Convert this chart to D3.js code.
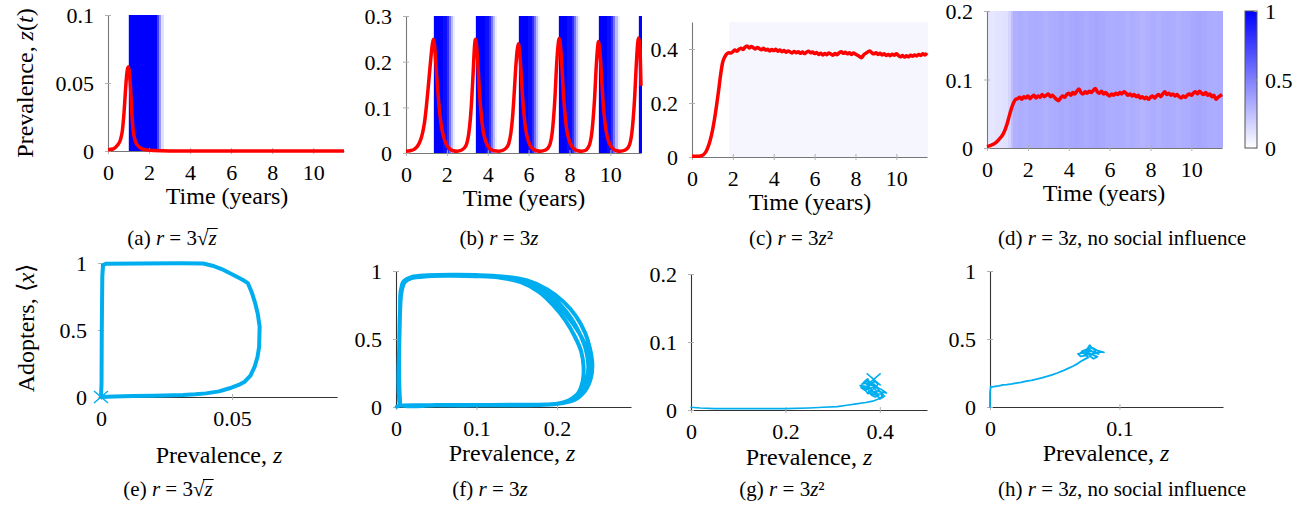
<!DOCTYPE html>
<html lang="en">
<head>
<meta charset="UTF-8">
<title>Prevalence and adopters</title>
<script src="https://d3js.org/d3.v7.min.js"></script>
<style>
  body { margin: 0; background: #fff; }
</style>
</head>
<body>
<svg id="fig" width="1314" height="506"></svg>
<script>
// ---------- data ----------
const T_MAX = 11.5;
const timeTicks = [0, 2, 4, 6, 8, 10];
const NOISE_STEP = 0.1; // sampling step of the noisy series (years)

// (a) r = 3 sqrt(z): prevalence [t, z] and adopter heat bands [t0, t1, value]
const prevA = [[0,0.001],[0.25,0.0015],[0.45,0.004],[0.6,0.008],[0.7,0.015],[0.78,0.028],[0.85,0.044],
  [0.91,0.056],[0.96,0.061],[1.0,0.062],[1.04,0.058],[1.1,0.046],[1.15,0.031],[1.2,0.019],[1.27,0.011],
  [1.35,0.0065],[1.45,0.004],[1.6,0.002],[1.8,0.001],[2.2,0.0003],[3,0],[11.5,0]];
const bandsA = [[0.97,1.0,0.2],[1.0,2.4,1],[2.4,2.5,0.75],[2.5,2.6,0.4],[2.6,2.7,0.12]];

// (b) r = 3z
const prevB = [[0,0.004],[0.2,0.005],[0.4,0.008],[0.55,0.014],[0.7,0.027],[0.8,0.042],[0.9,0.065],[1.0,0.103],
  [1.1,0.15],[1.2,0.2],[1.28,0.235],[1.34,0.249],[1.4,0.235],[1.47,0.19],[1.55,0.14],[1.65,0.088],[1.75,0.054],
  [1.85,0.034],[1.95,0.021],[2.1,0.011],[2.3,0.005],[2.5,0.004],[2.7,0.006],
  [2.85,0.011],[2.97,0.02],[3.07,0.042],[3.15,0.075],[3.22,0.12],[3.29,0.18],[3.35,0.232],[3.4,0.249],
  [3.46,0.232],[3.53,0.185],[3.6,0.13],[3.68,0.085],[3.77,0.05],[3.87,0.03],[3.97,0.018],[4.1,0.01],
  [4.3,0.005],[4.55,0.004],[4.75,0.006],
  [4.9,0.011],[5.03,0.021],[5.13,0.043],[5.21,0.076],[5.28,0.12],[5.36,0.18],[5.44,0.225],[5.5,0.239],
  [5.56,0.222],[5.63,0.178],[5.7,0.125],[5.78,0.082],[5.87,0.048],[5.97,0.029],[6.07,0.017],[6.2,0.009],
  [6.4,0.005],[6.6,0.004],[6.8,0.006],
  [6.95,0.011],[7.06,0.021],[7.15,0.043],[7.22,0.076],[7.29,0.122],[7.36,0.185],[7.44,0.235],[7.5,0.251],
  [7.56,0.234],[7.63,0.188],[7.7,0.132],[7.78,0.086],[7.87,0.05],[7.97,0.03],[8.07,0.018],[8.2,0.01],
  [8.4,0.005],[8.6,0.004],[8.8,0.006],
  [8.9,0.011],[9.0,0.021],[9.09,0.043],[9.16,0.076],[9.23,0.12],[9.3,0.182],[9.37,0.228],[9.42,0.244],
  [9.48,0.228],[9.55,0.182],[9.62,0.128],[9.7,0.083],[9.79,0.049],[9.89,0.029],[9.99,0.018],[10.12,0.01],
  [10.3,0.005],[10.5,0.004],[10.7,0.006],
  [10.85,0.011],[10.96,0.021],[11.05,0.043],[11.12,0.076],[11.19,0.122],[11.26,0.185],[11.33,0.236],
  [11.37,0.252],[11.42,0.245],[11.46,0.22],[11.5,0.147]];
const bandsB = [
  [1.34,1.39,0.15],[1.39,1.8,1],[1.8,2.0,0.95],[2.0,2.1,0.82],[2.1,2.2,0.55],[2.2,2.3,0.27],[2.3,2.38,0.07],
  [3.38,3.43,0.15],[3.43,3.85,1],[3.85,4.07,0.95],[4.07,4.17,0.82],[4.17,4.27,0.55],[4.27,4.37,0.27],[4.37,4.45,0.07],
  [5.5,5.55,0.15],[5.55,5.95,1],[5.95,6.16,0.95],[6.16,6.26,0.82],[6.26,6.36,0.55],[6.36,6.46,0.27],[6.46,6.54,0.07],
  [7.46,7.51,0.15],[7.51,7.9,1],[7.9,8.12,0.95],[8.12,8.22,0.82],[8.22,8.32,0.55],[8.32,8.42,0.27],[8.42,8.5,0.07],
  [9.41,9.46,0.15],[9.46,9.85,1],[9.85,10.05,0.95],[10.05,10.15,0.82],[10.15,10.25,0.55],[10.25,10.35,0.27],[10.35,10.43,0.07],
  [11.35,11.4,0.15],[11.4,11.5,1]];

// (c) r = 3z^2
const prevC = [[0,0.003],[0.2,0.003],[0.4,0.004],[0.55,0.008],[0.7,0.022],[0.8,0.04],[0.9,0.065],[1.0,0.098],
  [1.1,0.14],[1.2,0.19],[1.3,0.245],[1.4,0.305],[1.5,0.35],[1.6,0.37],[1.7,0.382],[1.8,0.386],[1.9,0.385]];
const noisyCStart = 2.0;
const noisyC = [.390,.396,.392,.399,.403,.398,.407,.411,.404,.409,.405,.400,.406,.401,.397,.403,.396,.399,.393,.398,
  .394,.399,.392,.396,.390,.394,.388,.393,.389,.385,.391,.386,.390,.384,.389,.383,.388,.392,.386,.389,
  .383,.387,.380,.384,.378,.383,.379,.385,.381,.377,.383,.379,.386,.390,.384,.388,.382,.386,.380,.385,
  .381,.377,.372,.368,.378,.384,.389,.393,.386,.382,.386,.380,.384,.378,.382,.376,.380,.375,.381,.377,
  .382,.376,.371,.376,.370,.375,.371,.377,.373,.378,.374,.380,.376,.382,.378,.385];
const bandsC = [[1.8,11.5,0.035]];

// (d) r = 3z, no social influence
const prevD = [[0,0.002],[0.2,0.004],[0.4,0.007],[0.6,0.013],[0.8,0.021],[0.9,0.028],[1.0,0.037],[1.1,0.048],
  [1.2,0.058],[1.3,0.066],[1.4,0.071]];
const noisyDStart = 1.5;
const noisyD = [.072,.074,.071,.075,.073,.076,.072,.075,.077,.073,.076,.074,.078,.075,.077,.079,.075,.077,.074,.071,
  .069,.073,.076,.074,.078,.080,.077,.081,.079,.083,.086,.081,.079,.082,.080,.083,.081,.084,.087,.082,
  .080,.083,.079,.081,.078,.076,.079,.077,.080,.078,.081,.079,.082,.080,.077,.079,.076,.078,.075,.077,
  .073,.075,.072,.074,.071,.074,.076,.073,.076,.078,.075,.079,.082,.078,.080,.077,.079,.076,.078,.075,
  .073,.076,.074,.077,.079,.077,.080,.082,.079,.083,.080,.078,.081,.077,.079,.075,.077,.071,.074,.076,.078];
const bandsD = [[0,0.4,0.1],[0.4,0.8,0.11],[0.8,1.05,0.12],[1.05,1.15,0.17],[1.15,1.25,0.25],
  [1.25,1.5,.31],[1.5,1.75,.32],[1.75,2,.31],[2,2.25,.32],[2.25,2.5,.33],[2.5,2.75,.32],[2.75,3,.31],[3,3.25,.32],
  [3.25,3.5,.33],[3.5,3.75,.34],[3.75,4,.33],[4,4.25,.34],[4.25,4.5,.35],[4.5,4.75,.34],[4.75,5,.33],[5,5.25,.34],
  [5.25,5.5,.35],[5.5,5.75,.34],[5.75,6,.33],[6,6.25,.32],[6.25,6.5,.33],[6.5,6.75,.32],[6.75,7,.31],[7,7.25,.32],
  [7.25,7.5,.31],[7.5,7.75,.30],[7.75,8,.31],[8,8.25,.32],[8.25,8.5,.31],[8.5,8.75,.32],[8.75,9,.33],[9,9.25,.32],
  [9.25,9.5,.31],[9.5,9.75,.32],[9.75,10,.33],[10,10.25,.34],[10.25,10.5,.35],[10.5,10.75,.34],[10.75,11,.33],
  [11,11.25,.32],[11.25,11.5,.33]];

// phase portraits [z, <x>]
const phaseE = [[0,0],[0.005,0.003],[0.0123,0.007],[0.02,0.01],[0.0313,0.015],[0.036,0.02],[0.040,0.027],
  [0.045,0.042],[0.049,0.065],[0.0525,0.09],[0.0548,0.114],[0.057,0.16],[0.0586,0.226],[0.0597,0.3],
  [0.0603,0.375],[0.0605,0.525],[0.0598,0.62],[0.0588,0.70],[0.0575,0.78],[0.056,0.85],[0.054,0.875],
  [0.0505,0.91],[0.046,0.955],[0.0425,0.98],[0.039,0.996],[0.03,0.998],[0.015,0.997],[0.002,0.995],
  [0.0008,0.985],[0.0005,0.9],[0.0003,0.5],[0.0002,0.1],[0,0]];
const startE = [0, 0];

const phaseF = [[0.001,0.002],[0.005,0.01],[0.05,0.012],[0.1,0.013],[0.15,0.015],[0.195,0.02],[0.216,0.045],[0.23,0.11],
  [0.237,0.2],[0.239,0.3],[0.236,0.42],[0.229,0.53],[0.218,0.65],[0.203,0.76],[0.185,0.855],[0.16,0.925],
  [0.13,0.955],[0.1,0.966],[0.07,0.968],[0.042,0.965],[0.02,0.95],[0.011,0.92],[0.007,0.85],[0.005,0.7],
  [0.004,0.45],[0.004,0.2],[0.005,0.05],[0.006,0.015],
  [0.05,0.014],[0.1,0.015],[0.15,0.017],[0.198,0.023],[0.221,0.05],[0.235,0.12],[0.242,0.21],[0.244,0.31],
  [0.241,0.43],[0.235,0.545],[0.224,0.665],[0.208,0.775],[0.188,0.865],[0.162,0.932],[0.132,0.96],[0.1,0.97],
  [0.07,0.972],[0.04,0.968],[0.019,0.955],[0.01,0.925],[0.006,0.86],[0.005,0.7],[0.004,0.45],[0.004,0.2],
  [0.005,0.05],[0.006,0.015],
  [0.05,0.012],[0.1,0.012],[0.15,0.013],[0.19,0.018],[0.211,0.04],[0.226,0.1],[0.232,0.19],[0.233,0.3],
  [0.23,0.41],[0.222,0.52],[0.21,0.64],[0.195,0.75],[0.178,0.845],[0.155,0.918],[0.128,0.952],[0.1,0.962],
  [0.07,0.965],[0.04,0.962],[0.018,0.945],[0.009,0.91],[0.006,0.84],[0.005,0.7],[0.004,0.45],[0.004,0.2],
  [0.005,0.05],[0.006,0.015],
  [0.05,0.013],[0.1,0.014],[0.15,0.016],[0.196,0.021],[0.219,0.048],[0.233,0.115],[0.24,0.205],[0.241,0.305],
  [0.237,0.425],[0.228,0.54],[0.214,0.66],[0.198,0.77],[0.181,0.855],[0.158,0.93],[0.131,0.958],[0.1,0.968],
  [0.07,0.97],[0.04,0.966],[0.018,0.952],[0.009,0.92],[0.006,0.85],[0.005,0.7],[0.004,0.45],[0.003,0.2],
  [0.004,0.05],[0.005,0.012]];

const phaseG = [[0,0.004],[0.02,0.003],[0.05,0.002],[0.1,0.002],[0.15,0.002],[0.2,0.002],[0.25,0.003],[0.28,0.004],
  [0.31,0.005],[0.33,0.007],[0.35,0.009],[0.37,0.011],[0.385,0.013],[0.397,0.016],[0.405,0.02],[0.402,0.024],
  [0.39,0.022],[0.38,0.025],[0.375,0.03],[0.368,0.033],[0.358,0.036],[0.37,0.035],[0.378,0.031],[0.386,0.034],
  [0.392,0.029],[0.398,0.027],[0.414,0.025],[0.404,0.03],[0.395,0.033],[0.388,0.038],[0.382,0.036],[0.374,0.04],
  [0.362,0.038],[0.372,0.043],[0.38,0.04],[0.39,0.042],[0.396,0.038],[0.393,0.034],[0.384,0.03],[0.376,0.027],
  [0.382,0.022],[0.39,0.019],[0.398,0.021],[0.393,0.026],[0.385,0.028],[0.378,0.034],[0.372,0.031],[0.36,0.033],
  [0.37,0.028],[0.376,0.036],[0.366,0.041],[0.374,0.046],[0.381,0.038],[0.389,0.035],[0.396,0.031],[0.41,0.02],
  [0.4,0.016],[0.392,0.024],[0.383,0.027],[0.375,0.024],[0.368,0.03],[0.379,0.037],[0.388,0.041],[0.387,0.045]];
const endG = [0.387, 0.045];

const phaseH = [[0,0],[0,0.05],[0,0.1],[0.0005,0.15],[0.002,0.148],[0.004,0.152],[0.007,0.155],[0.01,0.162],
  [0.013,0.165],[0.017,0.17],[0.02,0.176],[0.024,0.181],[0.028,0.19],[0.032,0.196],[0.036,0.205],[0.04,0.215],
  [0.044,0.225],[0.048,0.236],[0.052,0.25],[0.056,0.265],[0.06,0.282],[0.064,0.3],[0.067,0.315],[0.07,0.335],
  [0.073,0.35],[0.076,0.365],[0.074,0.38],[0.07,0.372],[0.068,0.39],[0.073,0.4],[0.077,0.385],[0.081,0.395],
  [0.086,0.405],[0.088,0.402],[0.083,0.415],[0.079,0.43],[0.077,0.455],[0.075,0.425],[0.071,0.41],[0.076,0.4],
  [0.08,0.38],[0.083,0.37],[0.08,0.355],[0.077,0.375],[0.079,0.39],[0.082,0.42],[0.078,0.44],[0.074,0.395],
  [0.07,0.4],[0.075,0.415],[0.081,0.405],[0.084,0.39],[0.08,0.4],[0.076,0.43],[0.073,0.385],[0.078,0.385],
  [0.082,0.4],[0.08,0.41]];

const colorbarTicks = [0, 0.5, 1];

// ---------- drawing ----------
const SERIF = '"Liberation Serif"';
const RED = "#ff0000", CYAN = "#00aeef";
const svg = d3.select("#fig");
svg.append("rect").attr("width", 1314).attr("height", 506).attr("fill", "#fff");
const heat = d3.scaleLinear().domain([0, 1]).range(["#ffffff", "#0000ff"]);

function withNoise(head, start, values) {
  return head.concat(values.map((z, i) => [start + i * NOISE_STEP, z]));
}

function richText(parent, parts, x, y, size, anchor) {
  const t = parent.append("text").attr("x", x).attr("y", y)
    .attr("text-anchor", anchor || "middle")
    .style("font-family", SERIF).attr("font-size", size).attr("fill", "#000");
  parts.forEach(p => {
    const s = t.append("tspan").text(p[0]);
    if (p[1]) s.attr("font-style", "italic");
  });
  return t;
}

function styleAxis(ax, color) {
  ax.attr("font-size", null).attr("font-family", null);
  ax.select(".domain").attr("stroke", color).attr("stroke-width", 1.1);
  ax.selectAll(".tick line").attr("stroke", "#b0b0b0");
  ax.selectAll(".tick text").style("font-family", SERIF).attr("font-size", 22).attr("fill", "#000");
}

function drawAxes(g, x, y, xTicks, yTicks, color) {
  const xa = g.append("g").attr("transform", `translate(0,${y.range()[0]})`)
    .call(d3.axisBottom(x).tickValues(xTicks).tickSizeOuter(0).tickFormat(d => String(d)));
  styleAxis(xa, color);
  xa.selectAll(".tick line").attr("y1", -3).attr("y2", 3);
  xa.selectAll(".tick text").attr("y", 29).attr("dy", null);

  const ya = g.append("g").attr("transform", `translate(${x.range()[0]},0)`)
    .call(d3.axisLeft(y).tickValues(yTicks).tickSizeOuter(0).tickFormat(d => String(d)));
  styleAxis(ya, color);
  ya.selectAll(".tick line").attr("x1", -3).attr("x2", 3);
  ya.selectAll(".tick text").attr("x", -14).attr("dy", "0.35em");
}

function cross(g, px, py) {
  g.append("path").attr("d", `M${px-7},${py-6}L${px+7},${py+6}M${px-7},${py+6}L${px+7},${py-6}`)
    .attr("stroke", CYAN).attr("stroke-width", 1.5).attr("fill", "none");
}

// top row: prevalence vs time with adopter heat strip
const topPanels = [
  { x0: 108, x1: 344, yTop: 15, yBot: 151, yMax: 0.1, yTicks: [0, 0.05, 0.1], bands: bandsA, data: prevA,
    label: [227, 204] },
  { x0: 406, x1: 641, yTop: 16, yBot: 153, yMax: 0.3, yTicks: [0, 0.1, 0.2, 0.3], bands: bandsB, data: prevB,
    label: [524, 206] },
  { x0: 692, x1: 927, yTop: 22, yBot: 157, yMax: 0.5, yTicks: [0, 0.2, 0.4], bands: bandsC,
    data: withNoise(prevC, noisyCStart, noisyC), label: [810, 210] },
  { x0: 987, x1: 1222, yTop: 11, yBot: 148, yMax: 0.2, yTicks: [0, 0.1, 0.2], bands: bandsD,
    data: withNoise(prevD, noisyDStart, noisyD), label: [1104, 201] }
];

topPanels.forEach(p => {
  const g = svg.append("g");
  const x = d3.scaleLinear().domain([0, T_MAX]).range([p.x0, p.x1]);
  const y = d3.scaleLinear().domain([0, p.yMax]).range([p.yBot, p.yTop]);
  g.selectAll("rect.band").data(p.bands).join("rect").attr("class", "band")
    .attr("x", d => x(d[0])).attr("width", d => x(d[1]) - x(d[0]) + 0.5)
    .attr("y", p.yTop).attr("height", p.yBot - p.yTop)
    .attr("fill", d => heat(d[2])).attr("shape-rendering", "crispEdges");
  drawAxes(g, x, y, timeTicks, p.yTicks, "#777");
  g.append("path").datum(p.data)
    .attr("d", d3.line().x(d => x(d[0])).y(d => y(d[1])).curve(d3.curveMonotoneX))
    .attr("fill", "none").attr("stroke", RED).attr("stroke-width", 3.5)
    .attr("stroke-linejoin", "round");
  richText(g, [["Time (years)", false]], p.label[0], p.label[1], 24);
});

// colorbar
const cbY = d3.scaleLinear().domain([0, 1]).range([148, 11]);
const grad = svg.append("defs").append("linearGradient").attr("id", "cb")
  .attr("x1", 0).attr("y1", 1).attr("x2", 0).attr("y2", 0);
grad.append("stop").attr("offset", 0).attr("stop-color", heat(0));
grad.append("stop").attr("offset", 1).attr("stop-color", heat(1));
svg.append("rect").attr("x", 1245).attr("y", cbY(1)).attr("width", 12).attr("height", cbY(0) - cbY(1))
  .attr("fill", "url(#cb)").attr("stroke", "#555").attr("stroke-width", 1);
const cbAxis = svg.append("g").attr("transform", "translate(1257,0)")
  .call(d3.axisRight(cbY).tickValues(colorbarTicks).tickSizeOuter(0).tickFormat(d => String(d)));
cbAxis.attr("font-size", null).attr("font-family", null);
cbAxis.select(".domain").remove();
cbAxis.selectAll(".tick line").attr("x1", -3).attr("x2", 0).attr("stroke", "#999");
cbAxis.selectAll(".tick text").style("font-family", SERIF).attr("font-size", 22).attr("fill", "#000")
  .attr("x", 8).attr("dy", "0.35em");

// bottom row: phase portraits
const bottomPanels = [
  { x0: 101, x1: 337, zMax: 0.09, xTicks: [0, 0.05], yTop: 263, yBot: 397, yMax: 1, yTicks: [0, 0.5, 1],
    data: phaseE, width: 4, curve: d3.curveLinear, label: [219, 463], mark: startE },
  { x0: 396, x1: 631, zMax: 0.292, xTicks: [0, 0.1, 0.2], yTop: 271, yBot: 407, yMax: 1, yTicks: [0, 0.5, 1],
    data: phaseF, width: 4, curve: d3.curveCatmullRom.alpha(0.5), label: [512, 461] },
  { x0: 691, x1: 927, zMax: 0.5, xTicks: [0, 0.2, 0.4], yTop: 274, yBot: 410, yMax: 0.2, yTicks: [0, 0.1, 0.2],
    data: phaseG, width: 1.6, curve: d3.curveLinear, label: [809, 465], mark: endG },
  { x0: 990, x1: 1223, zMax: 0.18, xTicks: [0, 0.1], yTop: 271, yBot: 407, yMax: 1, yTicks: [0, 0.5, 1],
    data: phaseH, width: 1.8, curve: d3.curveLinear, label: [1106, 461] }
];

bottomPanels.forEach(p => {
  const g = svg.append("g");
  const x = d3.scaleLinear().domain([0, p.zMax]).range([p.x0, p.x1]);
  const y = d3.scaleLinear().domain([0, p.yMax]).range([p.yBot, p.yTop]);
  drawAxes(g, x, y, p.xTicks, p.yTicks, "#333");
  g.append("path").datum(p.data)
    .attr("d", d3.line().x(d => x(d[0])).y(d => y(d[1])).curve(p.curve))
    .attr("fill", "none").attr("stroke", CYAN).attr("stroke-width", p.width)
    .attr("stroke-linejoin", "round").attr("stroke-linecap", "round");
  if (p.mark) cross(g, x(p.mark[0]), y(p.mark[1]));
  richText(g, [["Prevalence, ", false], ["z", true]], p.label[0], p.label[1], 24);
});

// y-axis titles
richText(svg, [["Prevalence, ", false], ["z", true], ["(", false], ["t", true], [")", false]], 0, 0, 24)
  .attr("transform", "translate(33,83) rotate(-90)");
richText(svg, [["Adopters, \u27e8", false], ["x", true], ["\u27e9", false]], 0, 0, 24)
  .attr("transform", "translate(34,328) rotate(-90)");

// captions
function caption(cx, cy, letter, rest, sqrt) {
  const parts = [[`(${letter}) `, false], ["r", true], [" = 3", false]].concat(rest);
  const t = richText(svg, parts, cx, cy, 21);
  if (sqrt) {
    // overbar of the radical over the last glyph
    const n = t.text().length;
    const root = t.node().getExtentOfChar(n - 2);
    const zc = t.node().getExtentOfChar(n - 1);
    svg.append("line").attr("x1", root.x + root.width - 1.5).attr("x2", zc.x + zc.width + 1)
      .attr("y1", root.y + 2.5).attr("y2", root.y + 2.5).attr("stroke", "#000").attr("stroke-width", 1);
  }
}
caption(172, 245, "a", [["\u221a", false], ["z", true]], true);
caption(499, 245, "b", [["z", true]]);
caption(791, 245, "c", [["z", true], ["\u00b2", false]]);
caption(1122, 245, "d", [["z", true], [", no social influence", false]]);
caption(168, 496, "e", [["\u221a", false], ["z", true]], true);
caption(490, 496, "f", [["z", true]]);
caption(782, 496, "g", [["z", true], ["\u00b2", false]]);
caption(1122, 496, "h", [["z", true], [", no social influence", false]]);
</script>
</body>
</html>
